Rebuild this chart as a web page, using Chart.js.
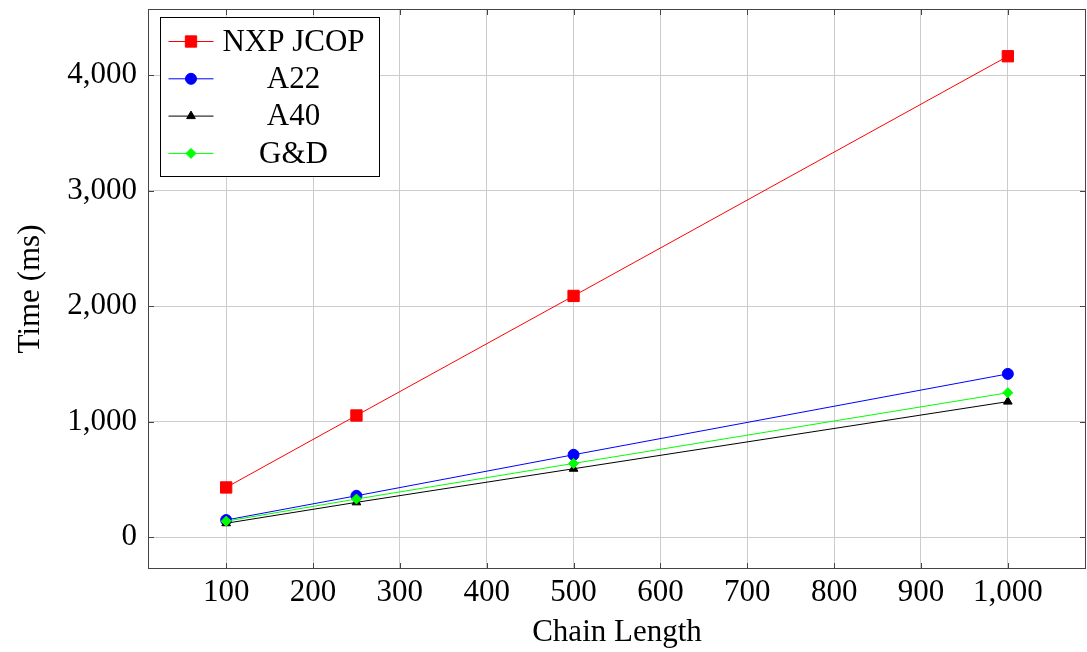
<!DOCTYPE html>
<html>
<head>
<meta charset="utf-8">
<script src="https://cdn.jsdelivr.net/npm/chart.js@4.4.0/dist/chart.umd.min.js"></script>
<style>
  html, body { margin: 0; padding: 0; background: #fff; overflow: hidden; }
  #wrap { width: 1095px; height: 652px; }
</style>
</head>
<body>
<div id="wrap"><canvas id="chart"></canvas></div>
<script>
// data
const chainLengths = [100, 250, 500, 1000];
const nxpJcop = [432, 1055, 2090, 4165];
const a22 = [150, 360, 715, 1415];
const a40 = [122, 303, 594, 1175];
const gd = [140, 332, 640, 1252];
const seriesNames = ["NXP JCOP", "A22", "A40", "G&D"];
const xTicks = [100, 200, 300, 400, 500, 600, 700, 800, 900, 1000];
const yTicks = [0, 1000, 2000, 3000, 4000];

const FONT = "'Liberation Serif', 'Times New Roman', serif";

function toPoints(ys) {
  return chainLengths.map((x, i) => ({ x: x, y: ys[i] }));
}

// frame on all four sides + small inner tick marks (pgfplots look)
const frame = {
  id: "frame",
  afterDraw(chart) {
    const { ctx, chartArea: a } = chart;
    const xs = chart.scales.x, ys = chart.scales.y;
    ctx.save();
    ctx.strokeStyle = "#444";
    ctx.lineWidth = 1;
    ctx.beginPath();
    xTicks.forEach(v => {
      const px = Math.round(xs.getPixelForValue(v)) + 0.5;
      ctx.moveTo(px, a.bottom); ctx.lineTo(px, a.bottom - 6);
      ctx.moveTo(px, a.top); ctx.lineTo(px, a.top + 6);
    });
    yTicks.forEach(v => {
      const py = Math.round(ys.getPixelForValue(v)) + 0.5;
      ctx.moveTo(a.left, py); ctx.lineTo(a.left + 6, py);
      ctx.moveTo(a.right, py); ctx.lineTo(a.right - 6, py);
    });
    ctx.stroke();
    ctx.strokeRect(Math.round(a.left) + 0.5, Math.round(a.top) + 0.5,
      Math.round(a.right - a.left) - 1, Math.round(a.bottom - a.top) - 1);
    ctx.restore();
  }
};

// boxed legend inside the plot, upper left
const boxLegend = {
  id: "boxLegend",
  afterDraw(chart) {
    const { ctx, chartArea: a } = chart;
    const x0 = a.left + 12.5, y0 = a.top + 8.5;
    const w = 219, h = 159, rowH = 37.3;
    ctx.save();
    ctx.fillStyle = "#fff";
    ctx.fillRect(x0, y0, w, h);
    ctx.strokeStyle = "#000";
    ctx.lineWidth = 1;
    ctx.strokeRect(x0, y0, w, h);
    chart.data.datasets.forEach((ds, i) => {
      const cy = y0 + 24 + i * rowH;
      ctx.strokeStyle = ds.borderColor;
      ctx.lineWidth = 1;
      ctx.beginPath();
      ctx.moveTo(x0 + 8, cy); ctx.lineTo(x0 + 53, cy);
      ctx.stroke();
      ctx.fillStyle = ds.backgroundColor;
      Chart.helpers.drawPoint(ctx, {
        pointStyle: ds.pointStyle, radius: ds.pointRadius, borderWidth: 1
      }, x0 + 30.5, cy);
      ctx.fillStyle = "#000";
      ctx.font = "31px " + FONT;
      ctx.textAlign = "center";
      ctx.textBaseline = "middle";
      ctx.fillText(ds.label, x0 + 133, cy + 1);
    });
    ctx.restore();
  }
};

const colors = ["#ff0000", "#0000ff", "#000000", "#00ff00"];
const styles = ["rect", "circle", "triangle", "rectRot"];
const radii = [8, 5.5, 5, 5];
const series = [nxpJcop, a22, a40, gd];

const datasets = series.map((ys, i) => ({
  label: seriesNames[i],
  data: toPoints(ys),
  borderColor: colors[i],
  backgroundColor: colors[i],
  borderWidth: 1,
  pointStyle: styles[i],
  pointRadius: radii[i],
  pointBorderWidth: 1,
  pointHoverRadius: radii[i],
  order: series.length - i,
  tension: 0
}));

new Chart(document.getElementById("chart"), {
  type: "line",
  data: { datasets },
  options: {
    responsive: true,
    maintainAspectRatio: false,
    animation: false,
    layout: { padding: { top: 8, right: 2, left: 0, bottom: 0 } },
    plugins: { legend: { display: false }, tooltip: { enabled: false } },
    scales: {
      x: {
        type: "linear",
        min: 10,
        max: 1090,
        afterBuildTicks: s => { s.ticks = xTicks.map(v => ({ value: v })); },
        afterFit: s => { s.height = 83; s.paddingLeft = 0; s.paddingRight = 0; },
        grid: { color: "#cccccc", drawTicks: false },
        border: { display: false },
        ticks: {
          color: "#000",
          font: { family: FONT, size: 31 },
          padding: 5,
          maxRotation: 0,
          callback: v => v.toLocaleString("en-US")
        },
        title: {
          display: true,
          text: "Chain Length",
          color: "#000",
          font: { family: FONT, size: 31 },
          padding: { top: 0, bottom: 1 }
        }
      },
      y: {
        type: "linear",
        min: -274,
        max: 4574,
        afterBuildTicks: s => { s.ticks = yTicks.map(v => ({ value: v })); },
        afterFit: s => { s.width = 148; s.paddingTop = 0; s.paddingBottom = 0; },
        grid: { color: "#cccccc", drawTicks: false },
        border: { display: false },
        ticks: {
          color: "#000",
          font: { family: FONT, size: 31 },
          padding: 11,
          callback: v => v.toLocaleString("en-US")
        },
        title: {
          display: true,
          text: "Time (ms)",
          color: "#000",
          font: { family: FONT, size: 31 },
          padding: { top: 12, bottom: 0 }
        }
      }
    }
  },
  plugins: [frame, boxLegend]
});
</script>
</body>
</html>
